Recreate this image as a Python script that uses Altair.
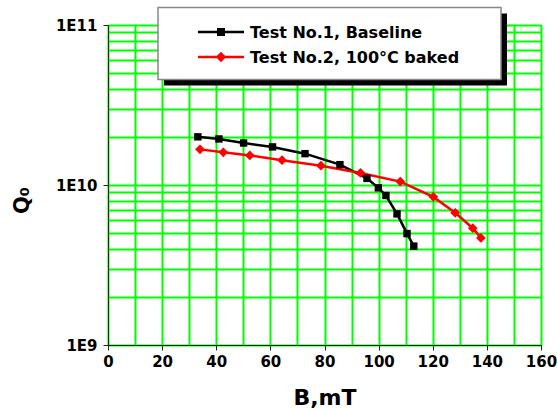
import altair as alt
import pandas as pd

series_names = ["Test No.1, Baseline", "Test No.2, 100°C baked"]
series_colors = ["black", "#ff0000"]
series_shapes = ["square", "diamond"]

b_test1 = [33.2, 41.0, 50.1, 60.8, 72.8, 85.7, 95.7, 99.9, 102.7, 106.8, 110.5, 113.0]
q_test1 = [2.00e10, 1.94e10, 1.83e10, 1.73e10, 1.57e10, 1.34e10, 1.10e10, 9.6e9, 8.6e9, 6.6e9, 4.97e9, 4.15e9]

b_test2 = [34.0, 42.6, 52.4, 64.3, 78.7, 93.3, 108.0, 120.2, 128.3, 134.8, 137.8]
q_test2 = [1.67e10, 1.60e10, 1.53e10, 1.43e10, 1.32e10, 1.19e10, 1.05e10, 8.43e9, 6.70e9, 5.37e9, 4.67e9]

x_grid_values = list(range(0, 161, 10))
y_grid_values = [m * 10 ** e for e in (9, 10) for m in range(1, 10)] + [1e11]

df = pd.DataFrame(
    {
        "B": b_test1 + b_test2,
        "Q": q_test1 + q_test2,
        "series": [series_names[0]] * len(b_test1) + [series_names[1]] * len(b_test2),
    }
)
one_row = pd.DataFrame({"k": [0]})

FONT = "DejaVu Sans"
GRID = "#00ff00"
POW10 = "abs(log(datum.value)/LN10 - round(log(datum.value)/LN10)) < 1e-6"

x_enc = alt.X(
    "B:Q",
    scale=alt.Scale(domain=[0, 160], nice=False, zero=False),
    axis=alt.Axis(
        values=x_grid_values,
        labelExpr="datum.value % 20 == 0 ? datum.label : ''",
        grid=True,
        gridColor=GRID,
        gridWidth=2,
        gridOpacity=1,
        tickSize={"condition": {"test": "datum.value % 20 == 0", "value": 5}, "value": 0},
        tickColor="#222",
        domainColor="#222",
        labelFont=FONT,
        labelFontSize=15,
        labelFontWeight="bold",
        labelColor="black",
        labelPadding=4,
        labelFlush=False,
        title="B,mT",
        titleFont=FONT,
        titleFontSize=22,
        titleFontWeight="bold",
        titleColor="black",
        titleBaseline="alphabetic",
        titleY=59,
    ),
)

y_enc = alt.Y(
    "Q:Q",
    scale=alt.Scale(type="log", domain=[1e9, 1e11], nice=False),
    axis=alt.Axis(
        values=y_grid_values,
        labelExpr=POW10 + " ? '1E' + round(log(datum.value)/LN10) : ''",
        grid=True,
        gridColor=GRID,
        gridWidth=2,
        gridOpacity=1,
        tickSize={"condition": {"test": POW10, "value": 5}, "value": 0},
        tickColor="#222",
        domainColor="#222",
        labelFont=FONT,
        labelFontSize=15,
        labelFontWeight="bold",
        labelColor="black",
        labelPadding=6,
        labelFlush=False,
        title="Q₀",
        titleFont=FONT,
        titleFontSize=21,
        titleFontWeight="bold",
        titleColor="black",
        titleAngle=270,
        titleAlign="center",
        titleBaseline="alphabetic",
        titleX=-80,
        titleY=175,
    ),
)

color_scale = alt.Scale(domain=series_names, range=series_colors)

lines = alt.Chart(df).mark_line(strokeWidth=2.5).encode(
    x=x_enc,
    y=y_enc,
    color=alt.Color("series:N", scale=color_scale, legend=None),
)

points = alt.Chart(df).mark_point(filled=True, opacity=1).encode(
    x=x_enc,
    y=y_enc,
    color=alt.Color("series:N", scale=color_scale, legend=None),
    shape=alt.Shape("series:N", scale=alt.Scale(domain=series_names, range=series_shapes), legend=None),
    size=alt.Size("series:O", scale=alt.Scale(domain=series_names, range=[55, 95]), legend=None),
)

# legend box (shadow + white frame)
shadow = alt.Chart(one_row).mark_rect(color="black").encode(
    x=alt.value(56), x2=alt.value(399), y=alt.value(-11.5), y2=alt.value(60.5)
)
box = alt.Chart(one_row).mark_rect(fill="white", stroke="#888", strokeWidth=1.5).encode(
    x=alt.value(50), x2=alt.value(393), y=alt.value(-17.5), y2=alt.value(54.5)
)

legend_rows = [7, 32]
legend_layers = []
for name, col, shp, sz, ry in zip(series_names, series_colors, series_shapes, [64, 110], legend_rows):
    legend_layers.append(
        alt.Chart(one_row).mark_rule(color=col, strokeWidth=2.5).encode(
            x=alt.value(90), x2=alt.value(136), y=alt.value(ry)
        )
    )
    legend_layers.append(
        alt.Chart(one_row).mark_point(filled=True, opacity=1, color=col, shape=shp, size=sz).encode(
            x=alt.value(113), y=alt.value(ry)
        )
    )
    legend_layers.append(
        alt.Chart(one_row).mark_text(
            align="left", baseline="middle", font=FONT, fontSize=16, fontWeight="bold", color="black"
        ).encode(x=alt.value(142), y=alt.value(ry + 1), text=alt.value(name))
    )

chart = (
    alt.layer(lines, points, shadow, box, *legend_layers)
    .properties(
        width=433,
        height=320,
        autosize=alt.AutoSizeParams(type="none"),
        padding={"left": 108, "top": 25, "right": 16, "bottom": 64},
        background="white",
    )
    .configure_view(stroke="#222", strokeWidth=1)
)

chart.save("out.html", embed_options={"renderer": "svg", "actions": False})
